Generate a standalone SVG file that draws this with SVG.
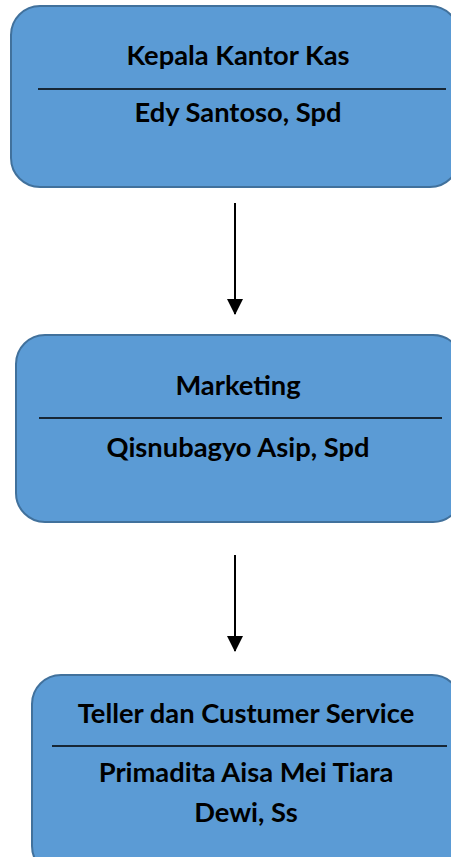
<svg xmlns="http://www.w3.org/2000/svg" width="451" height="857" viewBox="0 0 451 857">
<style>
.box{fill:#5B9BD5;stroke:#41719C;stroke-width:2}
.div{stroke:#000;stroke-width:1.3}
.t{font-family:Lato,"Open Sans","Liberation Sans",sans-serif;font-weight:bold;font-size:27.3px;fill:#000;text-anchor:middle}
.c{stroke:#000;stroke-width:2;fill:none}
</style>
<defs>
<marker id="ah" markerWidth="8" markerHeight="8" refX="7.5" refY="4" orient="auto" markerUnits="strokeWidth">
<path d="M0,0 L8,4 L0,8 Z" fill="#000"/>
</marker>
</defs>
<rect width="451" height="857" fill="#fff"/>
<g id="n1">
<rect class="box" x="11" y="6" width="448" height="181" rx="29"/>
<line class="div" x1="38" y1="89" x2="446" y2="89"/>
<text class="t" x="238" y="65">Kepala Kantor Kas</text>
<text class="t" x="238" y="122">Edy Santoso, Spd</text>
</g>
<g id="n2">
<rect class="box" x="16" y="335" width="446" height="187" rx="29"/>
<line class="div" x1="39" y1="418" x2="442" y2="418"/>
<text class="t" x="238" y="395">Marketing</text>
<text class="t" x="238" y="457">Qisnubagyo Asip, Spd</text>
</g>
<g id="n3">
<rect class="box" x="32" y="675" width="429" height="200" rx="29"/>
<line class="div" x1="52" y1="746" x2="447" y2="746"/>
<text class="t" x="246" y="723">Teller dan Custumer Service</text>
<text class="t" x="246" y="782">Primadita Aisa Mei Tiara</text>
<text class="t" x="246" y="822">Dewi, Ss</text>
</g>
<g id="connectors">
<line class="c" x1="235" y1="203" x2="235" y2="314" marker-end="url(#ah)"/>
<line class="c" x1="235" y1="555" x2="235" y2="651" marker-end="url(#ah)"/>
</g>
</svg>
